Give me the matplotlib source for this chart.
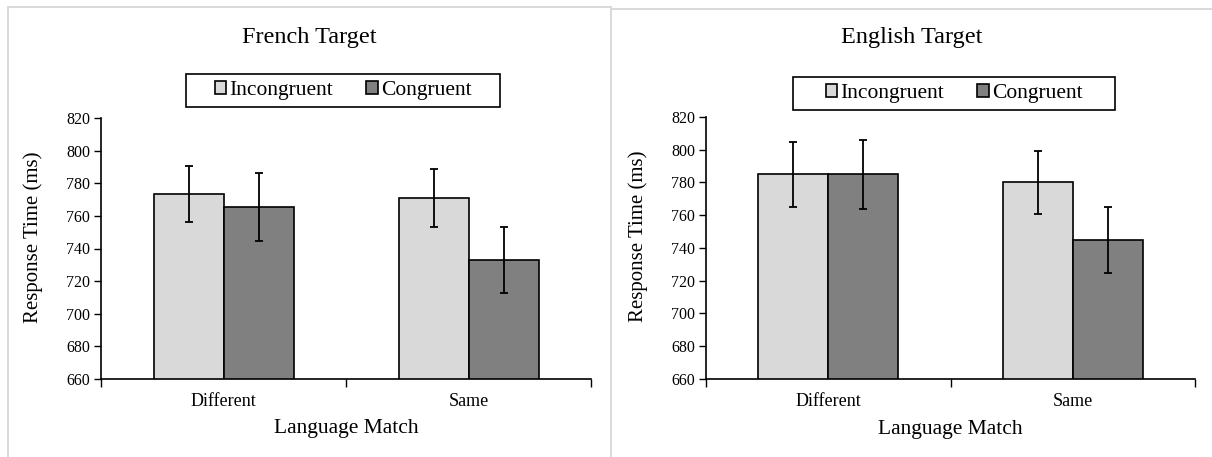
import matplotlib.pyplot as plt
from matplotlib.patches import Rectangle
import numpy as np

CATEGORIES = ["Different", "Same"]
SERIES = ["Incongruent", "Congruent"]
COLORS = ["#D9D9D9", "#808080"]

FRENCH_MEANS = [[773.5, 771], [765.5, 733]]
FRENCH_ERR = [[17, 18], [21, 20]]
ENGLISH_MEANS = [[785, 780], [785, 745]]
ENGLISH_ERR = [[20, 19], [21, 20]]

TITLES = ["French Target", "English Target"]
Y_TICKS = np.arange(660, 821, 20)

W, H = 1212, 457
plt.rcParams['font.family'] = ['Liberation Serif', 'DejaVu Serif']


def draw_panel(fig, rect, means, errs):
    ax = fig.add_axes(rect)
    x = np.arange(len(CATEGORIES))
    width = 1 / 3.5
    for (s, name) in enumerate(SERIES):
        offset = (s - 0.5) * width
        ax.bar(x + offset, means[s], width, color=COLORS[s], edgecolor='black',
               linewidth=1.2, label=name, zorder=2)
        ax.errorbar(x + offset, means[s], yerr=errs[s], fmt='none', ecolor='black',
                    elinewidth=1.3, capsize=3, capthick=1.3, zorder=3)

    ax.set_xlim(-0.5, len(CATEGORIES) - 0.5)
    ax.set_ylim(660, 820)
    ax.set_yticks(Y_TICKS)
    ax.tick_params(axis='y', labelsize=11.5, direction='out', length=5, width=1, pad=3)

    # boundary ticks on the x axis, labels at the category centres
    ax.set_xticks(np.arange(-0.5, len(CATEGORIES), 1.0))
    ax.set_xticklabels([])
    ax.set_xticks(x, minor=True)
    ax.set_xticklabels(CATEGORIES, minor=True, fontsize=13)
    ax.tick_params(axis='x', which='major', direction='out', length=6, width=1)
    ax.tick_params(axis='x', which='minor', length=0, pad=10)

    for side in ['top', 'right']:
        ax.spines[side].set_visible(False)
    for side in ['left', 'bottom']:
        ax.spines[side].set_linewidth(1.2)

    ax.set_ylabel('Response Time (ms)', fontsize=15)
    ax.yaxis.set_label_coords(-0.118, 0.545)
    ax.set_xlabel('Language Match', fontsize=15.5)
    ax.xaxis.set_label_coords(0.5, -0.155)
    return ax


def main():
    fig = plt.figure(figsize=(W / 100, H / 100), dpi=100)

    # light grey panel frames
    fig.patches.append(Rectangle((8 / W, -0.05), (611 - 8) / W, 1.05 - 7 / H, transform=fig.transFigure,
                                 fill=False, edgecolor='#D9D9D9', linewidth=1.4))
    fig.patches.append(Rectangle((611 / W, -0.05), (1220 - 611) / W, 1.05 - 9 / H, transform=fig.transFigure,
                                 fill=False, edgecolor='#D9D9D9', linewidth=1.4))

    panels = [
        ((101 / W, 1 - 379 / H, 490 / W, 261 / H), FRENCH_MEANS, FRENCH_ERR, 309.5, 37, (186, 74, 314, 33)),
        ((706 / W, 1 - 379 / H, 489 / W, 262 / H), ENGLISH_MEANS, ENGLISH_ERR, 912, 38, (793, 77, 322, 33)),
    ]
    for (p, (rect, means, errs, tx, ty, box)) in enumerate(panels):
        ax = draw_panel(fig, rect, means, errs)
        fig.text(tx / W, 1 - ty / H, TITLES[p], fontsize=17.5, ha='center', va='center')

        bx, by, bw, bh = box
        fig.patches.append(Rectangle((bx / W, 1 - (by + bh) / H), bw / W, bh / H, transform=fig.transFigure,
                                     fill=False, edgecolor='black', linewidth=1.2))
        handles, labels = ax.get_legend_handles_labels()
        fig.legend(handles, labels, loc='center', bbox_to_anchor=((bx + bw / 2) / W, 1 - (by + bh / 2) / H),
                   ncol=2, frameon=False, fontsize=15.5, handlelength=0.55, handleheight=0.55,
                   handletextpad=0.15, columnspacing=1.5, borderpad=0)

    fig.savefig('out.png', dpi=100, facecolor='white')


if __name__ == '__main__':
    main()
